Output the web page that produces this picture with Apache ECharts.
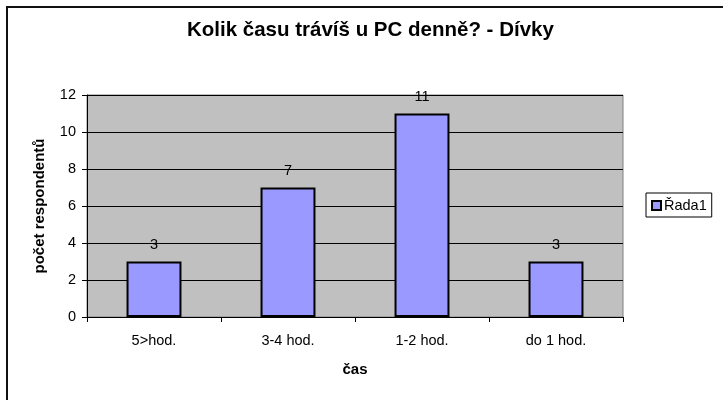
<!DOCTYPE html>
<html>
<head>
<meta charset="utf-8">
<script src="https://cdn.jsdelivr.net/npm/echarts@6/dist/echarts.min.js"></script>
<style>
  html, body { margin: 0; padding: 0; background: #fff; }
  #chart { width: 723px; height: 400px; }
</style>
</head>
<body>
<div id="chart"></div>
<script>
// data
const categories = ['5>hod.', '3-4 hod.', '1-2 hod.', 'do 1 hod.'];
const counts = [3, 7, 11, 3];
const seriesName = 'Řada1';

const font = '"Liberation Sans", Arial, sans-serif';

const chart = echarts.init(document.getElementById('chart'), null, {renderer: 'canvas'});

chart.setOption({
  animation: false,
  backgroundColor: '#fff',
  title: {
    text: 'Kolik času trávíš u PC denně? - Dívky',
    left: 182,
    top: 15,
    textStyle: {fontFamily: font, fontSize: 20.5, fontWeight: 'bold', color: '#000'}
  },
  legend: {
    left: 646,
    top: 193,
    padding: [5, 5, 4, 5],
    borderColor: '#000',
    borderWidth: 1,
    itemWidth: 9,
    itemHeight: 9,
    itemGap: 3,
    icon: 'rect',
    textStyle: {fontFamily: font, fontSize: 14.5, color: '#000', padding: [0, 0, 0, -2]},
    data: [seriesName]
  },
  graphic: [{
    type: 'rect',
    shape: {x: 7, y: 7, width: 800, height: 500},
    style: {fill: null, stroke: '#111', lineWidth: 2},
    silent: true
  }],
  grid: {
    left: 87,
    right: 100,
    top: 95,
    bottom: 83,
    show: true,
    backgroundColor: '#C0C0C0',
    borderColor: '#808080',
    borderWidth: 1
  },
  xAxis: {
    type: 'category',
    data: categories,
    name: 'čas',
    nameLocation: 'middle',
    nameGap: 45,
    nameTextStyle: {fontFamily: font, fontSize: 15, fontWeight: 'bold', color: '#000'},
    axisLine: {lineStyle: {color: '#000', width: 1}},
    axisTick: {show: true, length: 5, lineStyle: {color: '#000'}},
    axisLabel: {fontFamily: font, fontSize: 14.5, color: '#000', margin: 16}
  },
  yAxis: {
    type: 'value',
    min: 0,
    max: 12,
    interval: 2,
    name: 'počet respondentů',
    nameLocation: 'middle',
    nameGap: 40,
    nameRotate: 90,
    nameTextStyle: {fontFamily: font, fontSize: 15, fontWeight: 'bold', color: '#000'},
    axisLine: {show: true, lineStyle: {color: '#000', width: 1}},
    axisTick: {show: true, length: 5, lineStyle: {color: '#000'}},
    axisLabel: {fontFamily: font, fontSize: 14.5, color: '#000', margin: 11},
    splitLine: {show: true, lineStyle: {color: '#000', width: 1}}
  },
  series: [{
    name: seriesName,
    type: 'bar',
    data: counts,
    barWidth: '41%',
    itemStyle: {color: '#9999FF', borderColor: '#000', borderWidth: 2},
    label: {
      show: true,
      position: 'top',
      distance: 9,
      fontFamily: font,
      fontSize: 14.5,
      color: '#000'
    }
  }]
});
</script>
</body>
</html>
